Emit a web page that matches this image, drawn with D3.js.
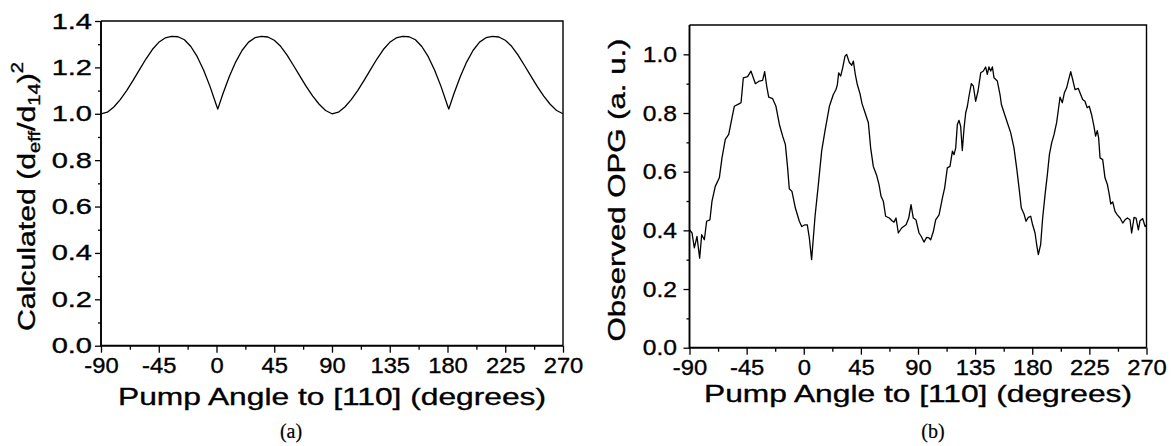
<!DOCTYPE html>
<html><head><meta charset="utf-8">
<script src="https://cdn.jsdelivr.net/npm/d3@7"></script>
<style>
body{margin:0;background:#fff;}
svg{display:block;}
text{font-family:"Liberation Sans",Arial,sans-serif;fill:#000;stroke:#000;stroke-width:0.35px;}
</style></head><body>
<svg id="c" width="1172" height="446"></svg>
<script>
// ---------- data ----------
const xTickValues = [-90, -45, 0, 45, 90, 135, 180, 225, 270];
const xMinorValues = [-67.5, -22.5, 22.5, 67.5, 112.5, 157.5, 202.5, 247.5];
const yTicksA = [0, 0.2, 0.4, 0.6, 0.8, 1.0, 1.2, 1.4];
const yMinorA = [0.1, 0.3, 0.5, 0.7, 0.9, 1.1, 1.3];
const yTicksB = [0, 0.2, 0.4, 0.6, 0.8, 1.0];
const yMinorB = [0.1, 0.3, 0.5, 0.7, 0.9];

// (a) calculated (d_eff/d_14)^2
const calcAngles = [-90,-85,-80,-75,-70,-65,-60,-55,-50,-45,-40,-35,-30,-25,-20,-15,-10,-5,0,1,
  5,10,15,20,25,30,35,40,45,50,55,60,65,70,75,80,85,90,
  95,100,105,110,115,120,125,130,135,140,145,150,155,160,165,170,175,180,181,
  185,190,195,200,205,210,215,220,225,230,235,240,245,250,255,260,265,270];
const calcValues = [1.000,1.007,1.029,1.061,1.100,1.144,1.190,1.236,1.277,1.308,1.327,1.334,1.332,1.319,1.290,1.246,1.188,1.117,1.036,1.020,
  1.086,1.161,1.224,1.274,1.309,1.328,1.334,1.331,1.317,1.291,1.253,1.208,1.162,1.117,1.076,1.041,1.014,1.000,
  1.007,1.029,1.061,1.100,1.144,1.190,1.236,1.277,1.308,1.327,1.334,1.332,1.319,1.290,1.246,1.188,1.117,1.036,1.020,
  1.086,1.161,1.224,1.274,1.309,1.328,1.334,1.331,1.317,1.291,1.253,1.208,1.162,1.117,1.076,1.041,1.014,1.000];

// (b) observed OPG (a.u.)
const obsAngles = [-90,-88.0,-86.2,-84.1,-82.0,-80.4,-78.3,-76.5,-73.9,-72.3,-69.7,-66.5,-64.4,-61.8,-59.1,-56.5,-54.7,-50.7,-49.4,-47.6,
  -44.2,-41.6,-38.1,-35.0,-32.4,-30.8,-29.2,-27.6,-24.5,-21.9,-19.2,-16.6,-14.5,-12.7,-11.4,-9.3,-6.6,-3.5,-1.6,1.0,
  2.8,4.4,6.2,8.9,11.5,14.1,16.7,20.2,23.3,25.4,26.5,27.5,29.1,30.7,32.5,33.8,35.9,37.8,39.1,40.6,
  42.2,44.3,45.9,48.3,50.9,52.7,54.8,57.4,59.3,60.9,62.7,64.5,67.4,69.5,71.1,72.7,74.5,77.1,80.6,82.7,
  84.5,86.3,88.4,90.8,92.6,94.7,96.8,98.7,100.0,102.1,103.9,106.6,109.2,111.0,113.1,115.2,117.1,118.4,119.7,121.0,
  122.3,123.6,124.9,126.3,127.6,128.9,130.2,132.0,133.6,135.4,137.3,139.4,141.5,143.3,144.6,145.9,147.3,148.6,149.9,152.5,
  154.6,155.7,157.8,160.4,163.0,165.6,167.7,169.6,171.4,173.5,175.1,176.9,178.8,180.3,182.2,183.5,184.8,186.6,188.2,190.1,
  191.9,193.5,195.3,197.2,199.2,200.6,201.9,203.7,205.3,207.1,208.4,210.3,211.8,213.7,216.3,217.6,219.7,221.5,223.3,224.9,
  226.7,228.6,229.9,231.2,232.3,233.4,235.5,237.3,239.2,240.7,241.8,243.4,245.2,247.0,249.2,251.3,253.1,254.9,257.0,258.3,
  260.2,261.8,263.6,264.9,267.0,268.9,270.0];
const obsValues = [0.402,0.391,0.340,0.379,0.305,0.385,0.368,0.431,0.436,0.499,0.550,0.579,0.647,0.710,0.727,0.784,0.823,0.832,0.835,0.920,
  0.924,0.943,0.900,0.909,0.911,0.941,0.892,0.854,0.849,0.823,0.761,0.721,0.693,0.613,0.542,0.533,0.476,0.431,0.413,0.419,
  0.419,0.374,0.300,0.448,0.556,0.670,0.738,0.823,0.863,0.880,0.897,0.937,0.926,0.955,0.994,1.000,0.972,0.963,0.977,0.932,
  0.897,0.866,0.832,0.801,0.767,0.681,0.618,0.588,0.556,0.516,0.499,0.448,0.442,0.433,0.428,0.442,0.391,0.408,0.419,0.442,
  0.488,0.442,0.436,0.391,0.379,0.360,0.376,0.374,0.368,0.396,0.436,0.453,0.510,0.545,0.613,0.618,0.670,0.658,0.681,0.761,
  0.775,0.755,0.672,0.750,0.801,0.823,0.858,0.900,0.892,0.840,0.875,0.937,0.943,0.957,0.932,0.957,0.943,0.957,0.920,0.909,
  0.863,0.829,0.801,0.767,0.733,0.681,0.613,0.545,0.476,0.456,0.431,0.444,0.448,0.419,0.391,0.351,0.317,0.351,0.442,0.522,
  0.590,0.658,0.698,0.727,0.767,0.812,0.854,0.835,0.869,0.886,0.909,0.941,0.915,0.880,0.884,0.869,0.846,0.840,0.818,0.823,
  0.795,0.755,0.721,0.740,0.715,0.647,0.641,0.579,0.556,0.522,0.490,0.497,0.465,0.453,0.442,0.425,0.436,0.442,0.436,0.391,
  0.444,0.442,0.402,0.433,0.440,0.413,0.419];

const xTitle = "Pump Angle to [110] (degrees)";
const yTitleB = "Observed OPG (a. u.)";
const panelLabels = ["(a)", "(b)"];

// ---------- drawing ----------
const svg = d3.select("#c");
const fmtX = d => d < 0 ? "-" + Math.abs(d) : String(d);
const fmtY = d => d3.format(".1f")(d);

function panel(opt) {
  const x = d3.scaleLinear().domain([-90, 270]).range([opt.left, opt.right]);
  const y = d3.scaleLinear().domain([0, opt.yMax]).range([opt.bottom, opt.top]);
  const g = svg.append("g");

  // minor ticks
  g.append("g").attr("transform", `translate(0,${opt.bottom})`)
    .call(d3.axisBottom(x).tickValues(xMinorValues).tickSize(4).tickFormat(""))
    .call(s => s.select(".domain").remove());
  g.append("g").attr("transform", `translate(${opt.left},0)`)
    .call(d3.axisLeft(y).tickValues(opt.yMinor).tickSize(3).tickFormat(""))
    .call(s => s.select(".domain").remove());

  // major x
  const gx = g.append("g").attr("transform", `translate(0,${opt.bottom})`)
    .call(d3.axisBottom(x).tickValues(xTickValues).tickSize(7).tickPadding(5).tickFormat(fmtX));
  gx.select(".domain").remove();
  gx.selectAll("text").style("font-size", "22px").attr("font-family", null)
    .attr("transform", "scale(1.08,1)");

  // major y
  const gy = g.append("g").attr("transform", `translate(${opt.left},0)`)
    .call(d3.axisLeft(y).tickValues(opt.yTicks).tickSize(6).tickFormat(fmtY));
  gy.select(".domain").remove();
  gy.selectAll("text").style("font-size", "22px").attr("font-family", null)
    .attr("x", -opt.yGap / opt.ySx).attr("transform", `scale(${opt.ySx},1)`);
  g.selectAll(".tick line").attr("stroke", "#000").attr("stroke-width", 1.3);

  // frame
  g.append("path")
    .attr("d", `M${opt.left},${opt.top}H${opt.right}V${opt.bottom}`)
    .attr("fill", "none").attr("stroke", "#000").attr("stroke-width", 1.4);
  g.append("path")
    .attr("d", `M${opt.left},${opt.top}V${opt.bottom}H${opt.right}`)
    .attr("fill", "none").attr("stroke", "#000").attr("stroke-width", 1.9);

  // data line
  const pts = opt.xs.map((a, i) => [a, opt.vs[i]]);
  g.append("path").datum(pts)
    .attr("d", d3.line().x(d => x(d[0])).y(d => y(d[1])).curve(opt.curve))
    .attr("fill", "none").attr("stroke", "#000").attr("stroke-width", 1.3)
    .attr("stroke-linejoin", "round");

  // x title
  const cx = (opt.left + opt.right) / 2;
  g.append("text").attr("x", cx).attr("y", opt.titleY)
    .attr("text-anchor", "middle").style("font-size", "24px")
    .attr("textLength", 428).attr("lengthAdjust", "spacingAndGlyphs")
    .text(xTitle);

  // panel label
  g.append("text").attr("x", opt.labelX).attr("y", 438)
    .attr("text-anchor", "middle")
    .style("font-family", "'Liberation Serif','Times New Roman',serif").style("font-size", "20px")
    .style("stroke-width", "0.2px")
    .text(opt.label);
  return g;
}

const gA = panel({left: 101, right: 563, top: 21, bottom: 345.7, yMax: 1.4,
  yTicks: yTicksA, yMinor: yMinorA, yGap: 9, ySx: 1.32, titleY: 405,
  xs: calcAngles, vs: calcValues, curve: d3.curveLinear, label: panelLabels[0], labelX: 291});

const gB = panel({left: 689.5, right: 1146.5, top: 25, bottom: 347.7, yMax: 1.1,
  yTicks: yTicksB, yMinor: yMinorB, yGap: 12.5, ySx: 1.12, titleY: 402,
  xs: obsAngles, vs: obsValues, curve: d3.curveLinear, label: panelLabels[1], labelX: 933});

// y title (a) with sub/superscripts
const tA = gA.append("text")
  .attr("transform", "translate(35,196.5) rotate(-90) scale(1.26,1)")
  .attr("text-anchor", "middle").style("font-size", "24px");
tA.append("tspan").text("Calculated (d");
tA.append("tspan").text("eff").style("font-size", "16px").attr("dy", 5);
tA.append("tspan").text("/d").attr("dy", -5);
tA.append("tspan").text("14").style("font-size", "16px").attr("dy", 5);
tA.append("tspan").text(")").attr("dy", -5);
tA.append("tspan").text("2").style("font-size", "16px").attr("dy", -12);

// y title (b)
gB.append("text")
  .attr("transform", "translate(625,190) rotate(-90)")
  .attr("text-anchor", "middle").style("font-size", "24px")
  .attr("textLength", 303).attr("lengthAdjust", "spacingAndGlyphs")
  .text(yTitleB);
</script>
</body></html>
